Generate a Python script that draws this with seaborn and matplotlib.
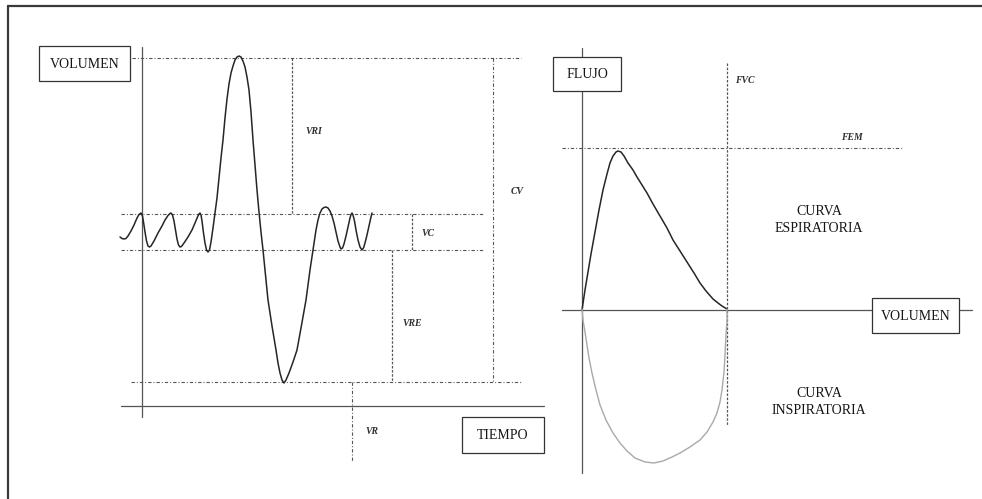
import matplotlib
matplotlib.use("Agg")
import matplotlib.pyplot as plt
from matplotlib.patches import Rectangle
import seaborn as sns

# spirogram trace (volume vs time), picture pixel coords
wave_x = [120, 122, 124, 126, 128, 131, 134, 137, 139, 141, 142.5, 143.5, 145, 146.5, 148,
          149.5, 151, 154, 158, 162, 165, 168, 170, 171, 172.5, 174, 175.5, 177, 178.5, 180,
          181.5, 184, 188, 192, 195, 197.5, 199, 200, 201, 202, 203.5, 205, 206.5, 208, 209.5,
          211, 213, 215, 217, 219, 221, 223, 225, 227, 229, 231, 233, 235, 237, 239,
          241, 243, 245, 247, 249, 251, 253, 255, 257, 259, 261, 263, 265, 268, 272,
          276, 278, 280, 282, 284, 286, 289, 293, 297, 301, 306, 310, 313, 316, 318,
          320, 322, 324, 326, 328, 330, 332, 334, 336, 338, 340, 341, 342.5, 344, 346,
          348, 350, 351, 352, 353, 354.5, 356, 358, 360, 362, 363.5, 365, 367, 369, 371, 372]
wave_y = [237, 238.5, 239, 238.5, 236, 231, 225, 218, 214.5, 213, 216, 222, 232, 241, 246,
          247, 246, 241, 233, 226, 220, 215.5, 213.5, 213, 215, 221, 230, 239, 245, 247,
          246.5, 243, 237, 230, 223, 217, 214, 213, 215, 221, 233, 243, 250, 252, 250,
          242, 228, 213, 198, 178, 158, 140, 118, 99, 84, 73, 66, 60, 57, 56,
          57, 61, 67, 77, 90, 112, 140, 165, 190, 212, 232, 250, 270, 300, 326,
          350, 363, 373, 380, 383, 380, 373, 362, 350, 328, 300, 270, 250, 230, 220,
          213, 209, 207.5, 207, 208, 211, 216, 223, 232, 241, 247, 249, 248, 244, 236,
          227, 218, 214.5, 213, 215, 221, 230, 240, 247, 250, 248, 243, 235, 226, 217, 213]

# flow-volume loop
exp_x = [582, 585, 588, 591, 595, 599, 603, 607, 610, 613, 616, 618, 621, 624, 628, 633,
         637, 642, 647, 653, 660, 667, 673, 680, 687, 694, 700, 706, 713, 718, 722, 727]
exp_y = [310, 290, 272, 254, 232, 210, 190, 174, 163, 156, 152, 151, 152, 156, 163, 170,
         177, 185, 193, 204, 216, 228, 240, 251, 262, 273, 283, 291, 299, 303, 306, 309]
insp_x = [582, 583, 585, 587, 589, 592, 596, 600, 606, 613, 620, 627, 635, 645, 654,
          663, 672, 680, 690, 700, 707, 713, 717, 720, 722, 724, 725, 726, 727, 727]
insp_y = [309, 320, 332, 345, 358, 373, 390, 405, 420, 433, 443, 451, 458, 462, 463,
          461, 457, 453, 447, 440, 432, 422, 413, 402, 390, 372, 355, 335, 320, 309]

# reference levels
lvl_max, lvl_tidal_hi, lvl_tidal_lo, lvl_min = 58, 214, 250, 382
lvl_fem, x_fvc = 148, 727

labels_small = ["VRI", "CV", "VC", "VRE", "VR", "FVC", "FEM"]
labels_small_xy = [(314, 131), (517, 191), (428, 234), (412, 323), (372, 431), (745, 80), (852, 137)]

boxes = ["VOLUMEN", "TIEMPO", "FLUJO", "VOLUMEN"]
boxes_rect = [(39, 46, 130, 81), (462, 417, 544, 453), (553, 57, 621, 91), (872, 298, 959, 333)]

sns.set_theme(style="white")
plt.rcParams["font.family"] = ["Liberation Serif", "DejaVu Serif"]

fig = plt.figure(figsize=(9.82, 4.99), dpi=100)
ax = fig.add_axes([0, 0, 1, 1])
ax.set_xlim(0, 982)
ax.set_ylim(499, 0)
ax.axis("off")

dark = "#262626"
ref = "#555555"
dashdot = (3.0, 1.8, 0.9, 1.8)
short = (2.0, 1.3)

# frame
ax.plot([8, 982], [6, 6], color="#3a3a3a", lw=1.6)
ax.plot([8, 8], [6, 499], color="#3a3a3a", lw=1.6)

# left panel axes
ax.plot([142, 142], [47, 417], color=ref, lw=0.9)
ax.plot([121, 544], [406, 406], color=ref, lw=0.9)

# horizontal reference levels
ax.plot([132, 521], [lvl_max, lvl_max], color=ref, lw=0.8, dashes=dashdot)
ax.plot([121, 484], [lvl_tidal_hi, lvl_tidal_hi], color=ref, lw=0.8, dashes=dashdot)
ax.plot([121, 484], [lvl_tidal_lo, lvl_tidal_lo], color=ref, lw=0.8, dashes=dashdot)
ax.plot([131, 521], [lvl_min, lvl_min], color=ref, lw=0.8, dashes=dashdot)

# vertical volume brackets
ax.plot([292, 292], [lvl_max, lvl_tidal_hi], color=ref, lw=0.9, dashes=short)
ax.plot([412, 412], [lvl_tidal_hi, lvl_tidal_lo], color=ref, lw=0.9, dashes=short)
ax.plot([392, 392], [lvl_tidal_lo, lvl_min], color=ref, lw=0.9, dashes=short)
ax.plot([493, 493], [lvl_max, lvl_min], color=ref, lw=0.8, dashes=dashdot)
ax.plot([352, 352], [lvl_min, 462], color=ref, lw=0.8, dashes=dashdot)

sns.lineplot(x=wave_x, y=wave_y, sort=False, estimator=None, color=dark, lw=1.1, ax=ax)

# right panel axes
ax.plot([582, 582], [48, 473], color=ref, lw=0.9)
ax.plot([562, 972], [310, 310], color=ref, lw=0.9)
ax.plot([562, 902], [lvl_fem, lvl_fem], color=ref, lw=0.8, dashes=dashdot)
ax.plot([x_fvc, x_fvc], [63, 425], color=ref, lw=0.9, dashes=short)

sns.lineplot(x=exp_x, y=exp_y, sort=False, estimator=None, color=dark, lw=1.1, ax=ax)
sns.lineplot(x=insp_x, y=insp_y, sort=False, estimator=None, color="#a9a9a9", lw=1.0, ax=ax)

for name, (x0, y0, x1, y1) in zip(boxes, boxes_rect):
    ax.add_patch(Rectangle((x0, y0), x1 - x0, y1 - y0, fc="white", ec="#333333", lw=0.9, zorder=5))
    ax.text((x0 + x1) / 2, (y0 + y1) / 2 + 0.5, name, ha="center", va="center",
            fontsize=10, color="#151515", zorder=6)

for name, (x, y) in zip(labels_small, labels_small_xy):
    ax.text(x, y, name, ha="center", va="center", fontsize=7, style="italic",
            weight="bold", color="#2e2e2e")

ax.text(819, 220, "CURVA\nESPIRATORIA", ha="center", va="center", fontsize=10,
        color="#151515", linespacing=1.35)
ax.text(819, 402, "CURVA\nINSPIRATORIA", ha="center", va="center", fontsize=10,
        color="#151515", linespacing=1.35)

fig.savefig("out.png", dpi=100)
